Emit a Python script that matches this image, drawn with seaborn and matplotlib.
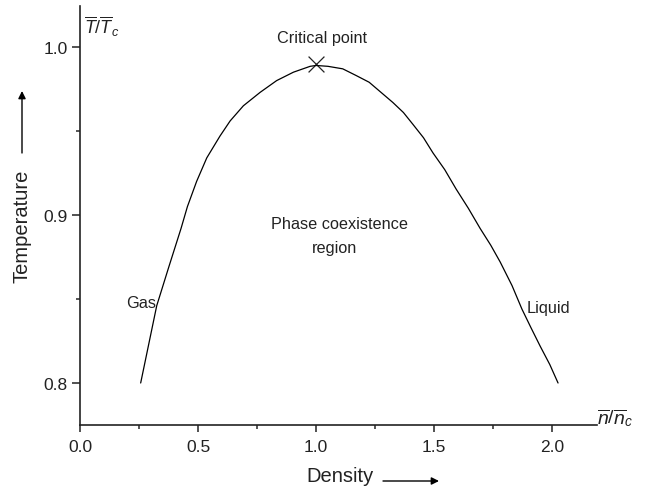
import matplotlib
matplotlib.use('Agg')
import matplotlib.pyplot as plt
import seaborn as sns
import pandas as pd
from matplotlib.ticker import MultipleLocator

# coexistence curve (gas branch -> critical point -> liquid branch)
density = [0.257, 0.291, 0.325, 0.376, 0.428, 0.455, 0.494, 0.537, 0.593, 0.636,
           0.692, 0.763, 0.833, 0.904, 0.975, 1.0,
           1.05, 1.113, 1.17, 1.225, 1.275, 1.325, 1.37, 1.41, 1.455, 1.495,
           1.545, 1.593, 1.645, 1.695, 1.74, 1.78, 1.83, 1.872, 1.91, 1.949, 1.99, 2.025]
temperature = [0.800, 0.823, 0.846, 0.869, 0.892, 0.905, 0.920, 0.934, 0.947, 0.956,
               0.965, 0.973, 0.980, 0.985, 0.9885, 0.989,
               0.9885, 0.987, 0.983, 0.979, 0.973, 0.967, 0.961, 0.954, 0.946, 0.937,
               0.927, 0.9155, 0.904, 0.892, 0.882, 0.872, 0.858, 0.844, 0.833, 0.822, 0.811, 0.800]
crit_density = [1.0]
crit_temperature = [0.990]
x_ticks = [0.0, 0.5, 1.0, 1.5, 2.0]
y_ticks = [0.8, 0.9, 1.0]

sns.set_style('ticks')
plt.rcParams['font.family'] = ['Liberation Sans', 'DejaVu Sans']
plt.rcParams['mathtext.fontset'] = 'custom'
plt.rcParams['mathtext.rm'] = 'Liberation Sans'
plt.rcParams['mathtext.it'] = 'Liberation Sans:italic'

fig = plt.figure(figsize=(6.49, 4.89), dpi=100)
ax = fig.add_axes([80/649, 63/489, 517/649, 419/489])

data = pd.DataFrame({'Density': density, 'Temperature': temperature})
sns.lineplot(data=data, x='Density', y='Temperature', sort=False, color='black', linewidth=0.9, ax=ax)
sns.scatterplot(x=crit_density, y=crit_temperature, marker='x', s=130, color='#222222', linewidth=0.9, ax=ax)

ax.set_xlim(0, 2.19)
ax.set_ylim(0.775, 1.0244)
ax.set_xticks(x_ticks)
ax.set_yticks(y_ticks)
ax.set_xticklabels(['%.1f' % v for v in x_ticks])
ax.set_yticklabels(['%.1f' % v for v in y_ticks])
ax.xaxis.set_minor_locator(MultipleLocator(0.25))
ax.yaxis.set_minor_locator(MultipleLocator(0.05))
ax.tick_params(axis='x', which='major', direction='out', length=5, width=1.1, pad=5, labelsize=12.5, colors='#222222')
ax.tick_params(axis='x', which='minor', direction='out', length=3, width=1.1)
ax.tick_params(axis='y', which='major', direction='out', length=6, width=1.1, pad=3, labelsize=12.5, colors='#222222')
ax.tick_params(axis='y', which='minor', direction='out', length=3, width=1.1)
for s in ['top', 'right']:
    ax.spines[s].set_visible(False)
for s in ['left', 'bottom']:
    ax.spines[s].set_linewidth(1.2)
    ax.spines[s].set_color('#222222')
ax.set_xlabel('')
ax.set_ylabel('')

# annotations inside the plot
txt = dict(fontsize=11.7, color='#222222', va='baseline')
ax.text(1.027, 1.003, 'Critical point', ha='center', **txt)
ax.text(1.10, 0.8923, 'Phase coexistence', ha='center', **txt)
ax.text(1.08, 0.878, 'region', ha='center', **txt)
ax.text(0.322, 0.845, 'Gas', ha='right', **txt)
ax.text(1.89, 0.8424, 'Liquid', ha='left', **txt)

# axis unit labels at the ends of the axes
fig.text(84/649, 1 - 27/489, r'$\overline{T}/\overline{T}_c$', ha='left', va='center', fontsize=13, color='#222222')
fig.text(597/649, 1 - 418/489, r'$\overline{n}/\overline{n}_c$', ha='left', va='center', fontsize=14, color='#222222')

# axis names with arrows
fig.text(22/649, 1 - 226/489, 'Temperature', rotation=90, ha='center', va='center', fontsize=14.5, color='#222222')
fig.text(340/649, 1 - 477/489, 'Density', ha='center', va='center', fontsize=14.5, color='#222222')
arrow = dict(arrowstyle='-|>', color='black', lw=1, mutation_scale=11, shrinkA=0, shrinkB=0)
ax.annotate('', xy=(22, 489 - 92), xytext=(22, 489 - 154), xycoords='figure pixels', arrowprops=arrow)
ax.annotate('', xy=(439, 489 - 482), xytext=(383, 489 - 482), xycoords='figure pixels', arrowprops=arrow)

fig.savefig('out.png', dpi=100)
